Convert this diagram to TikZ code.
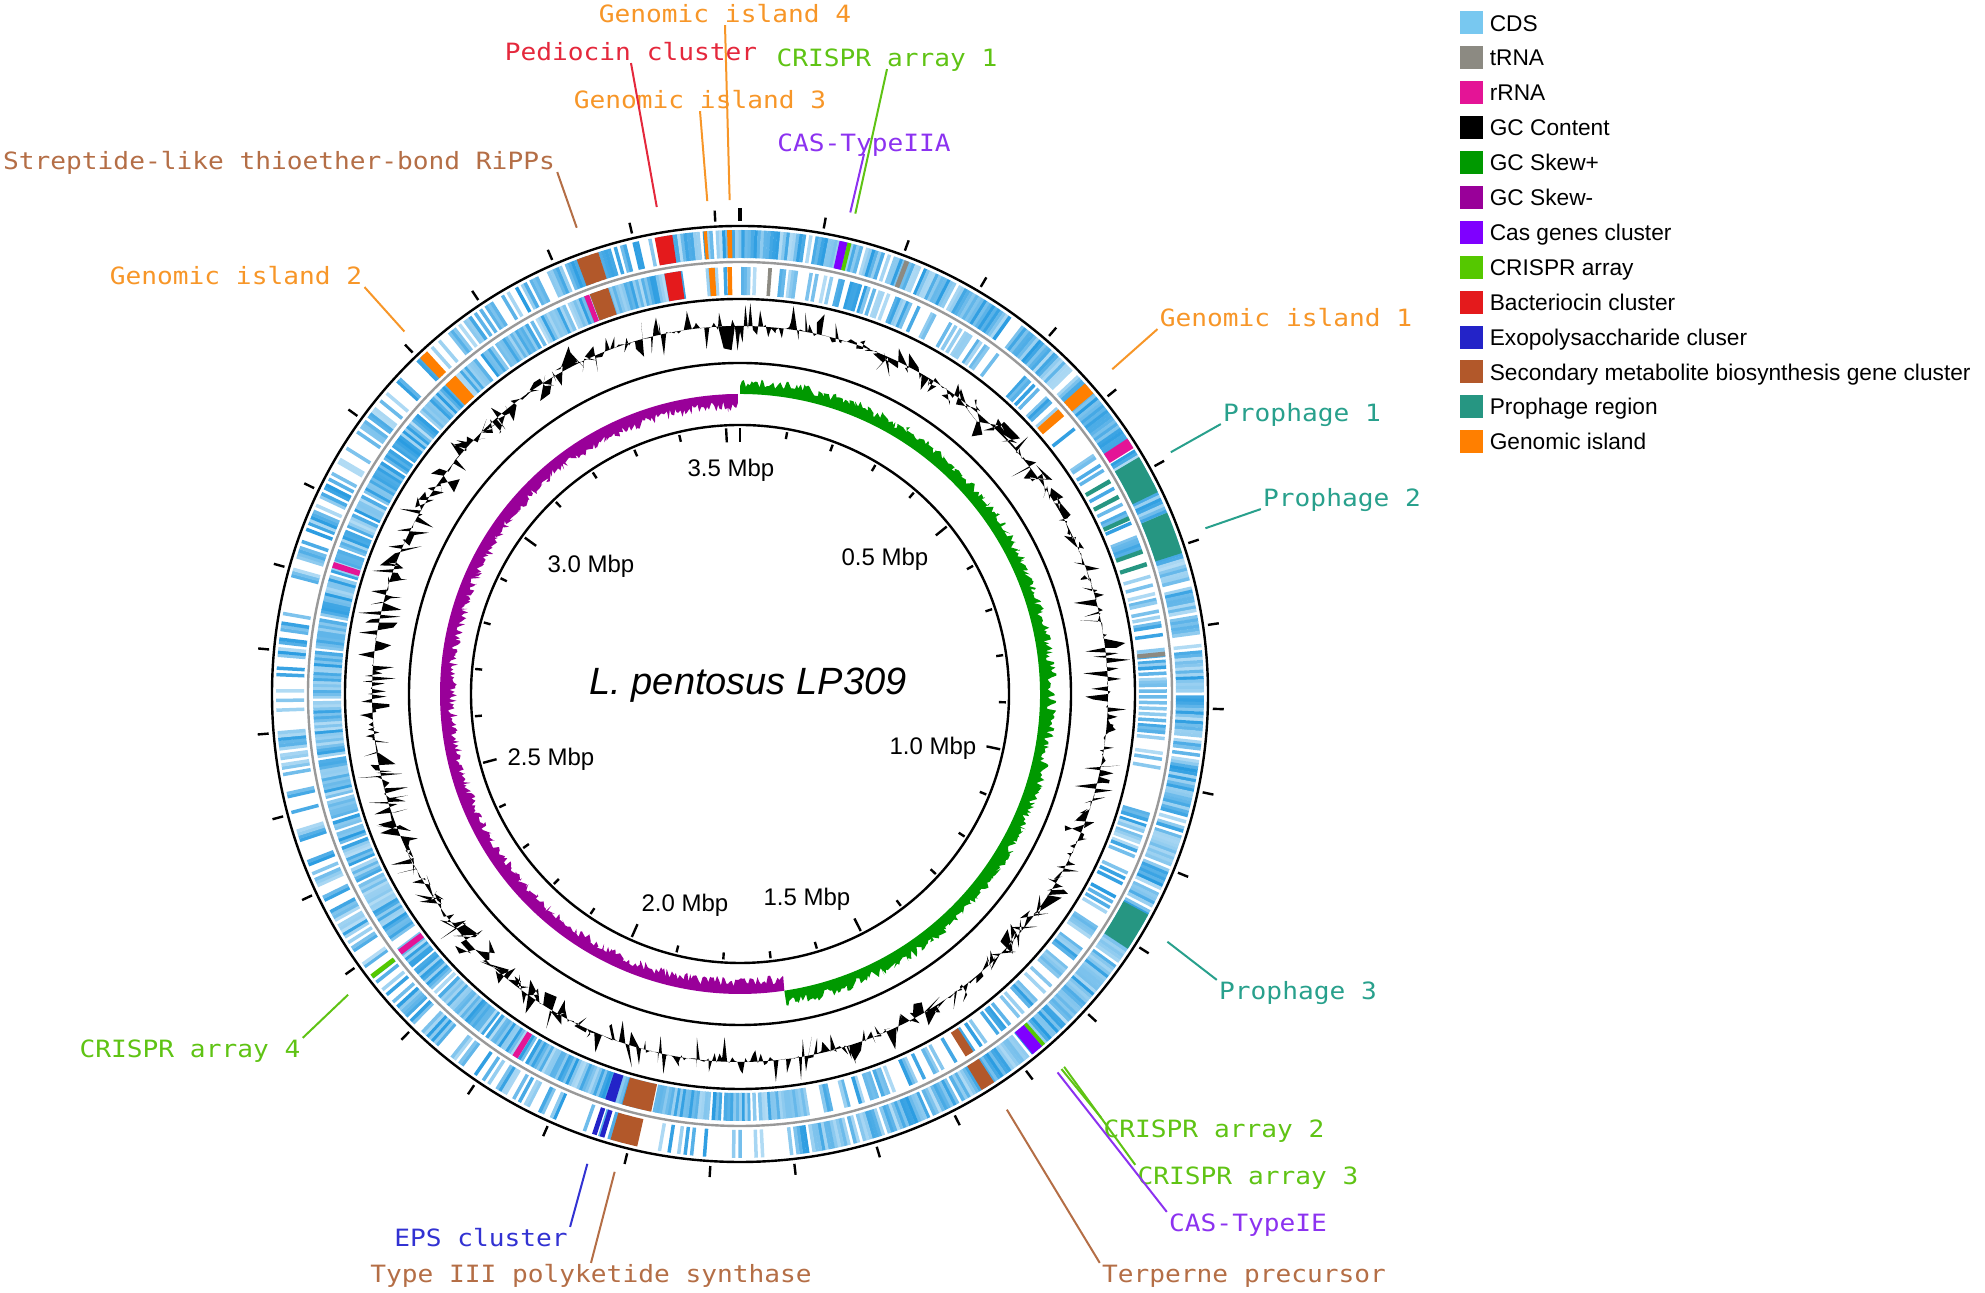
\documentclass[tikz,border=0pt]{standalone}
\usepackage{fontspec}
\setmainfont{Liberation Sans}
\newfontfamily\lblfont[FakeStretch=1.1]{DejaVu Sans Mono}
\usetikzlibrary{positioning}
\definecolor{cds}{RGB}{120,200,240}
\definecolor{cdsdark}{RGB}{40,155,225}
\definecolor{trna}{RGB}{140,138,130}
\definecolor{rrna}{RGB}{228,20,150}
\definecolor{skewplus}{RGB}{0,153,0}
\definecolor{skewminus}{RGB}{153,0,153}
\definecolor{casclr}{RGB}{127,0,255}
\definecolor{crispr}{RGB}{85,200,0}
\definecolor{bacterio}{RGB}{228,26,28}
\definecolor{eps}{RGB}{35,35,200}
\definecolor{secmet}{RGB}{178,88,42}
\definecolor{prophage}{RGB}{38,150,130}
\definecolor{gisland}{RGB}{255,127,0}
\definecolor{gilbl}{RGB}{247,150,40}
\definecolor{redlbl}{RGB}{228,40,60}
\definecolor{greenlbl}{RGB}{95,195,20}
\definecolor{caslbl}{RGB}{140,50,240}
\definecolor{brownlbl}{RGB}{180,110,70}
\definecolor{prolbl}{RGB}{40,160,140}
\definecolor{epslbl}{RGB}{50,50,210}

\begin{document}
\begin{tikzpicture}
  [x=0.5pt,y=0.5pt,
   ringline/.style={line width=1.2pt},
   cdsbar/.style={line width=1.75pt},
   tickmark/.style={line width=1.2pt},
   leader/.style={line width=1pt},
   legsw/.style={minimum size=11.5pt,inner sep=0pt},
   legtxt/.style={inner sep=0pt,text height=8.1pt,text depth=0pt,font=\fontsize{11.35}{13}\selectfont},
   mbp/.style={inner sep=0pt,text height=8.6pt,text depth=0pt,font=\fontsize{12}{14}\selectfont},
   annot/.style={inner sep=1pt,text height=8.7pt,text depth=0pt,font=\fontsize{11.9}{13}\lblfont},
   declare function={gcline(\u)=368+200*\u*\u*\u;}]
  \useasboundingbox (0,0) rectangle (1985,1293);
  \pgfmathsetseed{309}

  \begin{scope}[shift={(740,599)}]
    % CDS on both strands
    \foreach \k in {0,...,899} {
      \pgfmathsetmacro\ang{\k*0.4}
      \pgfmathsetmacro\dens{(\ang<173 || \ang>=350) ? 0.9 : ((\ang<200) ? 0.3 : 0.5)}
      \pgfmathtruncatemacro\hit{(rnd<\dens) ? 1 : 0}
      \ifnum\hit=1
        \pgfmathtruncatemacro\tone{35+65*rnd}
        \draw[cdsbar,cdsdark!\tone!white] ({90-\ang}:436) -- ({90-\ang}:464);
      \fi
      \pgfmathsetmacro\dens{(\ang>=170 && \ang<352) ? 0.9 : 0.4}
      \pgfmathtruncatemacro\hit{(rnd<\dens) ? 1 : 0}
      \ifnum\hit=1
        \pgfmathtruncatemacro\tone{35+65*rnd}
        \draw[cdsbar,cdsdark!\tone!white] ({90-\ang}:399) -- ({90-\ang}:427);
      \fi
    }

    \foreach \beg/\fin/\clr in {12.4/13.4/casclr, 13.4/13.9/crispr, 20.8/21.4/trna,
        48.0/49.6/gisland, 56.6/58.0/rrna, 59.3/64.2/prophage, 67.0/72.3/prophage,
        118.4/123.3/prophage, 138.9/139.4/crispr, 139.4/140.9/casclr, 146.8/148.6/secmet,
        192.8/196.2/secmet, 197.0/197.6/eps, 198.0/198.6/eps, 232.2/232.8/crispr,
        316.4/317.6/gisland, 339.4/342.2/secmet, 349.4/351.6/bacterio,
        355.5/355.9/gisland, 358.4/359.0/gisland}
      \fill[\clr] ({90-\beg}:436) arc[start angle={90-\beg},end angle={90-\fin},radius=436]
        -- ({90-\fin}:464) arc[start angle={90-\fin},end angle={90-\beg},radius=464] -- cycle;

    \foreach \beg/\fin/\clr in {3.8/4.3/trna, 48.2/49.4/gisland, 59.8/60.4/prophage,
        62.2/62.8/prophage, 65.4/66.0/prophage, 70.2/70.8/prophage, 72.0/72.6/prophage,
        84.3/84.9/trna, 146.9/148.1/secmet, 192.0/196.0/secmet, 197.0/198.4/eps,
        211.4/212.2/rrna, 232.4/233.2/rrna, 287.2/288.0/rrna, 316.4/318.2/gisland,
        338.6/339.3/rrna, 339.4/342.0/secmet, 349.8/352.0/bacterio,
        355.8/356.6/gisland, 358.3/358.9/gisland}
      \fill[\clr] ({90-\beg}:399) arc[start angle={90-\beg},end angle={90-\fin},radius=399]
        -- ({90-\fin}:427) arc[start angle={90-\fin},end angle={90-\beg},radius=427] -- cycle;

    % GC content and GC skew
    \fill[even odd rule] plot[domain=0:360,samples=901] (\x:{gcline(rnd-0.5)}) -- cycle
      (0,0) circle[radius=368];
    \fill (93.4:368) -- (92.7:346) -- (91.4:344) -- (90.8:368) -- cycle;
    \fill[skewplus] (90:300) -- plot[domain=90:-81.5,samples=480] (\x:{307+10*rnd})
      -- (-81.5:300) arc[start angle=-81.5,end angle=90,radius=300] -- cycle;
    \fill[skewminus] (-81.5:300) -- plot[domain=-81.5:-269.6,samples=520] (\x:{293-10*rnd})
      -- (-269.6:300) arc[start angle=-269.6,end angle=-81.5,radius=300] -- cycle;
    \fill[skewminus] (92.8:300) -- (92.4:282) -- (92.0:300) -- cycle;

    \draw[ringline] (0,0) circle[radius=269];
    \draw[ringline] (0,0) circle[radius=331];
    \draw[ringline] (0,0) circle[radius=395];
    \draw[ringline,gray!80] (0,0) circle[radius=432];
    \draw[ringline] (0,0) circle[radius=468];

    \foreach \k in {0,...,35} {
      \pgfmathsetmacro\ang{\k*10.2}
      \pgfmathsetmacro\rin{(mod(\k,5)==0) ? 252 : 259}
      \draw[tickmark] ({90-\ang}:\rin) -- ({90-\ang}:266);
      \draw[tickmark] ({90-\ang}:473) -- ({90-\ang}:484);
    }
    \draw[tickmark,line width=2pt] (90:473) -- (90:486);

    \foreach \n/\ang in {gifour/358.8, pedio/350.3, githree/356.2, crispra/13.5,
        castwo/12.9, strep/340.7, gitwo/317.2, gione/48.9, proone/60.7, protwo/70.4,
        prothree/120.1, crisprb/139.4, crisprc/139.0, casone/140.0, terp/147.3,
        crisprd/232.5, epsc/198.0, pks/194.7}
      \coordinate (\n-end) at ({90-\ang}:494);
  \end{scope}

  \node[mbp] (mbpa) at (731,825) {3.5 Mbp};
  \node[mbp] (mbpb) at (885,736) {0.5 Mbp};
  \node[mbp] (mbpc) at (933,547) {1.0 Mbp};
  \node[mbp] (mbpd) at (807,396) {1.5 Mbp};
  \node[mbp] (mbpe) at (685,390) {2.0 Mbp};
  \node[mbp] (mbpf) at (551,536) {2.5 Mbp};
  \node[mbp] (mbpg) at (591,729) {3.0 Mbp};
  \node[inner sep=0pt,text height=13.6pt,text depth=0pt,font=\fontsize{19}{22}\itshape]
    (title) at (748,612) {L. pentosus LP309};

  \node[annot,gilbl] (gifour) at (725,1279) {Genomic island 4};
  \node[annot,redlbl] (pedio) at (631,1241) {Pediocin cluster};
  \node[annot,greenlbl] (crispra) at (887,1235) {CRISPR array 1};
  \node[annot,gilbl] (githree) at (700,1193) {Genomic island 3};
  \node[annot,caslbl] (castwo) at (864,1150) {CAS-TypeIIA};
  \node[annot,brownlbl] (strep) at (279,1132) {Streptide-like thioether-bond RiPPs};
  \node[annot,gilbl] (gitwo) at (236,1017) {Genomic island 2};
  \node[annot,gilbl] (gione) at (1286,975) {Genomic island 1};
  \node[annot,prolbl] (proone) at (1302,880) {Prophage 1};
  \node[annot,prolbl] (protwo) at (1342,795) {Prophage 2};
  \node[annot,prolbl] (prothree) at (1298,302) {Prophage 3};
  \node[annot,greenlbl] (crisprb) at (1214,164) {CRISPR array 2};
  \node[annot,greenlbl] (crisprc) at (1248,117) {CRISPR array 3};
  \node[annot,caslbl] (casone) at (1248,70) {CAS-TypeIE};
  \node[annot,brownlbl] (terp) at (1244,19) {Terperne precursor};
  \node[annot,greenlbl] (crisprd) at (190,244) {CRISPR array 4};
  \node[annot,epslbl] (epsc) at (481,55) {EPS cluster};
  \node[annot,brownlbl] (pks) at (591,19) {Type III polyketide synthase};

  \foreach \n/\anc/\clr in {gifour/south/gilbl, pedio/south/redlbl, githree/south/gilbl,
      crispra/south/greenlbl, castwo/south/caslbl, strep/south east/brownlbl,
      gitwo/south east/gilbl, gione/south west/gilbl, proone/south west/prolbl,
      protwo/south west/prolbl, prothree/north west/prolbl, crisprb/north west/greenlbl,
      crisprc/north west/greenlbl, casone/north west/caslbl, terp/north west/brownlbl,
      crisprd/north east/greenlbl, epsc/north east/epslbl, pks/north/brownlbl}
    \draw[leader,\clr] (\n.\anc) -- (\n-end);

  \foreach \clr/\txt [count=\i from 0] in {cds/CDS, trna/tRNA, rrna/rRNA, black/GC Content,
      skewplus/GC Skew+, skewminus/GC Skew-, casclr/Cas genes cluster, crispr/CRISPR array,
      bacterio/Bacteriocin cluster, eps/Exopolysaccharide cluser,
      secmet/Secondary metabolite biosynthesis gene cluster, prophage/Prophage region,
      gisland/Genomic island} {
    \node[legsw,fill=\clr] (sw\i) at (1471.5,{1270-34.9*\i}) {};
    \node[legtxt,right=3pt of sw\i] (lg\i) {\txt};
  }
\end{tikzpicture}
\end{document}
